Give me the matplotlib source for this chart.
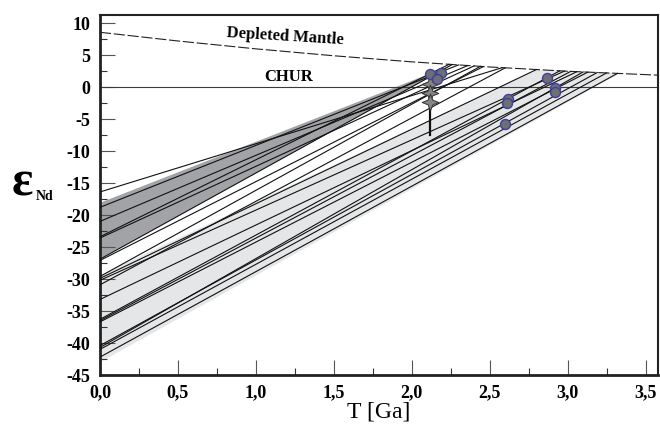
import numpy as np
import matplotlib
matplotlib.use("Agg")
import matplotlib.pyplot as plt
from matplotlib.path import Path
from matplotlib.ticker import MultipleLocator, FixedLocator, FixedFormatter

plt.rcParams['font.family'] = ['Liberation Serif', 'DejaVu Serif']
plt.rcParams['lines.scale_dashes'] = False

# Depleted mantle curve
dm_T = [0.0, 0.5, 1.0, 1.5, 2.0, 2.5, 3.0, 3.6]
dm_eps = [8.55, 7.19, 5.96, 4.88, 3.93, 3.13, 2.46, 1.83]

# Evolution lines: eps_Nd at T=0 and model age T_DM
groupA_eps0 = [-16.4, -18.8, -21.0, -23.4, -23.6, -26.9, -27.1, -29.6, -30.9]
groupA_tdm = [2.58, 2.30, 2.36, 2.24, 2.40, 2.26, 2.46, 2.44, 2.60]
groupB_eps0 = [-29.9, -30.2, -33.2, -36.3, -36.5, -36.7, -40.4, -40.7, -41.0, -42.2]
groupB_tdm = [2.80, 2.98, 3.06, 2.95, 3.02, 3.13, 3.19, 3.10, 3.25, 3.32]

# Shaded fields (T, eps)
dark_T = [0.0, 2.26, 0.0]
dark_eps = [-18.1, 3.45, -26.9]
light_T = [0.0, 2.80, 3.34, 0.0]
light_eps = [-29.4, 2.70, 2.20, -43.0]

# Sample points
circle_T = [2.12, 2.19, 2.16, 2.87, 2.92, 2.92, 2.62, 2.61, 2.60]
circle_eps = [1.98, 2.14, 1.20, 1.45, -0.20, -0.83, -1.88, -2.55, -5.83]
star_T = [2.12, 2.12, 2.12]
star_eps = [0.4, -1.0, -2.4]
bar_T = 2.12
bar_eps = [2.0, -7.5]

xticks = [0.0, 0.5, 1.0, 1.5, 2.0, 2.5, 3.0, 3.5]
xticklabels = ['0,0', '0,5', '1,0', '1,5', '2,0', '2,5', '3,0', '3,5']
yticks = [10, 5, 0, -5, -10, -15, -20, -25, -30, -35, -40, -45]

# 4-pointed star marker with concave arms
r_in = 0.4
ang = np.linspace(0, 2*np.pi, 9)[:-1] + np.pi/2
rad = np.array([1.0, r_in] * 4)
star_verts = np.column_stack([rad*np.cos(ang), rad*np.sin(ang)])
star_verts = np.vstack([star_verts, star_verts[:1]])
star_marker = Path(star_verts, closed=True)

fig = plt.figure(figsize=(6.6, 4.24), dpi=100)
ax = fig.add_axes([100/660, 1-375/424, 558/660, 360/424])

ax.fill(light_T, light_eps, color='#e5e6e7', lw=0, zorder=1)
ax.fill(dark_T, dark_eps, color='#a2a3a6', lw=0, zorder=1)

ax.axhline(0, color='#3a3a3a', lw=0.8, zorder=2)
ax.plot(dm_T, dm_eps, color='#222222', lw=0.8, dashes=(8, 2), zorder=2)

for e0, t in zip(groupA_eps0 + groupB_eps0, groupA_tdm + groupB_tdm):
    ax.plot([0, t], [e0, np.interp(t, dm_T, dm_eps)], color='#111111', lw=0.8, zorder=3)

ax.plot([bar_T, bar_T], bar_eps, color='#111111', lw=1.6, zorder=4)
ax.plot(star_T, star_eps, ls='none', marker=star_marker, ms=12, mfc='#858587',
        mec='#333333', mew=0.7, zorder=5)
ax.plot(circle_T, circle_eps, ls='none', marker='o', ms=7.2, mfc='#6e6f72',
        mec='#3b3f9e', mew=1.0, zorder=6)

ax.text(1.19, 7.9, 'Depleted Mantle', fontsize=12, fontweight='bold',
        ha='center', va='center', rotation=-3.5, zorder=6)
ax.text(1.21, 1.6, 'CHUR', fontsize=12, fontweight='bold',
        ha='center', va='center', zorder=6)

ax.set_xlim(0, 3.58)
ax.set_ylim(-45, 11.25)
ax.xaxis.set_major_locator(FixedLocator(xticks))
ax.xaxis.set_major_formatter(FixedFormatter(xticklabels))
ax.xaxis.set_minor_locator(MultipleLocator(0.25))
ax.yaxis.set_major_locator(FixedLocator(yticks))
ax.yaxis.set_major_formatter(FixedFormatter([str(v) for v in yticks]))
ax.yaxis.set_minor_locator(MultipleLocator(2.5))

ax.tick_params(which='major', direction='in', length=11, width=0.8, color='#555555',
               labelsize=13, pad=7)
ax.tick_params(which='minor', direction='in', length=5, width=0.8, color='#333333')
ax.tick_params(top=False, right=False, which='both')
for lab in ax.get_xticklabels() + ax.get_yticklabels():
    lab.set_fontweight('bold')

ax.spines['left'].set_linewidth(2.0)
ax.spines['bottom'].set_linewidth(2.0)
ax.spines['top'].set_linewidth(1.5)
ax.spines['right'].set_linewidth(1.5)
for s in ax.spines.values():
    s.set_color('#222222')

fig.text(379/660, 1-412/424, 'T [Ga]', fontsize=17, ha='center', va='center')
fig.text(22/660, 1-183/424, 'ε', fontsize=36, fontweight='bold', ha='center', va='center')
fig.text(36/660, 1-197/424, 'Nd', fontsize=10, fontweight='bold', ha='left', va='center')

fig.savefig('out.png', dpi=100)
